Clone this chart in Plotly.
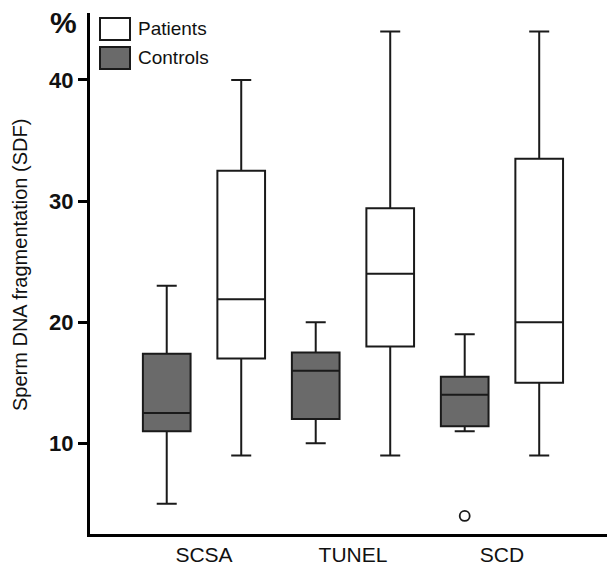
import plotly.graph_objects as go

# Sperm DNA fragmentation (%) by assay, patients vs. controls
methods = ["SCSA", "TUNEL", "SCD"]

controls_lower = [5.0, 10.0, 11.0]
controls_q1 = [11.0, 12.0, 11.4]
controls_median = [12.5, 16.0, 14.0]
controls_q3 = [17.4, 17.5, 15.5]
controls_upper = [23.0, 20.0, 19.0]

patients_lower = [9.0, 9.0, 9.0]
patients_q1 = [17.0, 18.0, 15.0]
patients_median = [21.9, 24.0, 20.0]
patients_q3 = [32.5, 29.4, 33.5]
patients_upper = [40.0, 44.0, 44.0]

outlier_method = ["SCD"]
outlier_values = [4.0]

y_ticks = [10, 20, 30, 40]

# figure geometry
W, H = 607, 568
M_L, M_R, M_T, M_B = 90, 0, 13, 34
PW, PH = W - M_L - M_R, H - M_T - M_B

FONT = "Liberation Sans, Arial, sans-serif"
DARK = "#1a1a1a"
CTRL_FILL = "#6a6a6a"

OFFSET = 0.25   # half spacing between the two boxes of a method
BOX_W = 0.32


def px(x, y):
    """Pixel position on the page -> paper coordinates."""
    return (x - M_L) / PW, (H - M_B - y) / PH


group_pos = {m: i + 1 for i, m in enumerate(methods)}
ctrl_x = [group_pos[m] - OFFSET for m in methods]
pat_x = [group_pos[m] + OFFSET for m in methods]

fig = go.Figure()

fig.add_trace(go.Box(
    name="Controls", x=ctrl_x,
    q1=controls_q1, median=controls_median, q3=controls_q3,
    lowerfence=controls_lower, upperfence=controls_upper,
    width=BOX_W, whiskerwidth=0.42, boxpoints=False,
    fillcolor=CTRL_FILL, line=dict(color=DARK, width=2),
    showlegend=False,
))
fig.add_trace(go.Box(
    name="Patients", x=pat_x,
    q1=patients_q1, median=patients_median, q3=patients_q3,
    lowerfence=patients_lower, upperfence=patients_upper,
    width=BOX_W, whiskerwidth=0.42, boxpoints=False,
    fillcolor="white", line=dict(color=DARK, width=2),
    showlegend=False,
))
fig.add_trace(go.Scatter(
    x=[group_pos[m] - OFFSET for m in outlier_method], y=outlier_values,
    mode="markers", showlegend=False,
    marker=dict(symbol="circle-open", size=10, color=DARK, line=dict(width=1.8)),
))

# legend drawn as boxes + labels
legend_items = [("Patients", "white", 18, 40), ("Controls", CTRL_FILL, 47, 69)]
for label, fill, top, bottom in legend_items:
    x0, y0 = px(100, bottom)
    x1, y1 = px(130, top)
    fig.add_shape(type="rect", xref="paper", yref="paper",
                  x0=x0, y0=y0, x1=x1, y1=y1,
                  fillcolor=fill, line=dict(color=DARK, width=2))
    tx, ty = px(136, (top + bottom) / 2)
    fig.add_annotation(xref="paper", yref="paper", x=tx, y=ty,
                       xanchor="left", yanchor="middle", showarrow=False,
                       text=label, font=dict(family=FONT, size=19, color="#111"))

# "%" unit mark above the axis
ux, uy = px(63, 23)
fig.add_annotation(xref="paper", yref="paper", x=ux, y=uy,
                   xanchor="center", yanchor="middle", showarrow=False,
                   text="<b>%</b>", font=dict(family=FONT, size=30, color="#111"))

# rotated y-axis title
tx, ty = px(20, 265)
fig.add_annotation(xref="paper", yref="paper", x=tx, y=ty,
                   xanchor="center", yanchor="middle", showarrow=False,
                   textangle=-90, text="Sperm DNA fragmentation (SDF)",
                   font=dict(family=FONT, size=20, color="#111"))

fig.update_layout(
    width=W, height=H,
    margin=dict(l=M_L, r=M_R, t=M_T, b=M_B, autoexpand=False),
    paper_bgcolor="white", plot_bgcolor="white",
    boxmode="overlay",
    font=dict(family=FONT, color="#111"),
    xaxis=dict(
        range=[0.235, 3.705],
        tickvals=[group_pos[m] for m in methods], ticktext=methods,
        ticks="", showgrid=False, zeroline=False,
        showline=True, linecolor="#000", linewidth=3,
        tickfont=dict(family=FONT, size=21, color="#111"),
    ),
    yaxis=dict(
        range=[2.51, 45.53],
        tickvals=y_ticks, ticktext=[f"<b>{v}</b>" for v in y_ticks],
        ticks="outside", ticklen=9, tickwidth=2.5, tickcolor="#000",
        showgrid=False, zeroline=False,
        showline=True, linecolor="#000", linewidth=3,
        tickfont=dict(family=FONT, size=22, color="#111"),
    ),
)

fig.write_html("out.html")
